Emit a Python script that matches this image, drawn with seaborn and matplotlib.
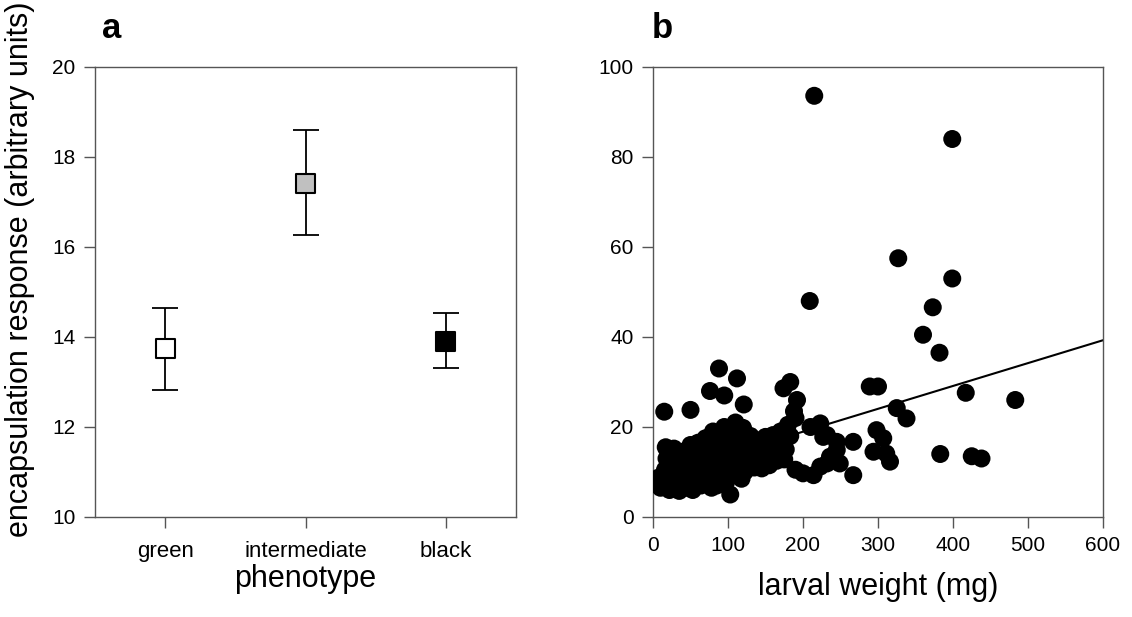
import matplotlib
matplotlib.use("Agg")
import matplotlib.pyplot as plt
import seaborn as sns
import numpy as np
import pandas as pd

# ---- Panel a data ----
phenotypes = ["green", "intermediate", "black"]
pheno_mean = [13.74, 17.41, 13.90]
pheno_lower = [12.82, 16.26, 13.30]
pheno_upper = [14.65, 18.60, 14.54]
pheno_fill = ["#ffffff", "#c0c0c0", "#000000"]

# ---- Panel b data (larval weight mg, encapsulation response) ----
weight = [
    5, 8, 10,
    17, 18, 16, 20, 22,
    28, 30, 27, 32, 35,
    40, 42, 38, 45,
    50, 52, 48, 55, 53,
    60, 62, 65, 58, 64,
    70, 72, 75, 68, 73, 78,
    80, 83, 85, 82, 88, 85,
    90, 93, 95, 92, 97, 95,
    100, 103, 105, 102, 108, 103,
    110, 113, 115, 112, 118, 110,
    120, 123, 125, 128, 122,
    130, 133, 137, 135,
    140, 143, 147, 145,
    150, 153, 157, 155,
    160, 163, 167, 165,
    170, 173, 177, 175,
    180, 183, 190, 188, 192,
    190, 200, 214,
    210, 223, 227, 232, 236, 245, 249, 223, 245, 232,
    15, 50, 88, 112, 76, 95, 121,
    174, 183,
    209, 215,
    267, 267, 289, 300, 325, 338, 298, 307, 294, 311, 316,
    383, 425, 438, 417, 483,
    360, 382, 373, 327, 399, 399,
]
response = [
    7.2, 8.8, 6.5,
    15.5, 13.0, 10.5, 8.0, 6.0,
    15.2, 12.5, 10.0, 7.5, 5.8,
    14.5, 11.8, 9.0, 6.5,
    16.0, 13.5, 11.0, 8.5, 6.0,
    16.5, 14.0, 11.5, 9.5, 7.0,
    17.5, 15.0, 12.5, 10.5, 8.0, 6.5,
    19.0, 16.5, 14.0, 11.5, 9.0, 7.0,
    18.0, 15.5, 13.0, 10.0, 7.5, 20.0,
    19.8, 17.0, 14.5, 12.0, 9.5, 5.0,
    18.5, 16.0, 13.5, 11.0, 8.5, 21.0,
    19.8, 17.5, 15.0, 12.5, 10.0,
    18.0, 15.5, 13.0, 11.0,
    17.0, 14.5, 12.5, 10.8,
    17.8, 15.5, 13.5, 11.5,
    18.2, 16.0, 14.0, 12.5,
    19.0, 17.0, 15.0, 12.8,
    20.5, 18.0, 22.0, 23.5, 26.0,
    10.5, 9.7, 9.3,
    20.0, 20.8, 17.8, 18.2, 13.4, 16.7, 11.9, 11.2, 14.9, 11.9,
    23.4, 23.8, 33.0, 30.8, 28.0, 27.0, 25.0,
    28.6, 30.0,
    48.0, 93.6,
    16.7, 9.3, 29.0, 29.0, 24.2, 21.9, 19.3, 17.5, 14.5, 14.1, 12.3,
    14.0, 13.5, 13.0, 27.6, 26.0,
    40.5, 36.5, 46.6, 57.5, 53.0, 84.0,
]
fit_intercept = 8.8
fit_slope = 0.0508
fit_range = [0, 600]

sns.set_theme(style="white")
plt.rcParams["font.family"] = ["Liberation Sans", "DejaVu Sans"]
plt.rcParams["text.color"] = "black"
plt.rcParams["axes.labelcolor"] = "black"
plt.rcParams["xtick.labelcolor"] = "black"
plt.rcParams["ytick.labelcolor"] = "black"

fig = plt.figure(figsize=(11.32, 6.17), dpi=100)
axA = fig.add_axes([95 / 1132, 100 / 617, 421 / 1132, 450 / 617])
axB = fig.add_axes([653 / 1132, 100 / 617, 450 / 1132, 450 / 617])

spine_col = "#555555"
for ax in (axA, axB):
    for s in ax.spines.values():
        s.set_visible(True)
        s.set_color(spine_col)
        s.set_linewidth(1.0)
    ax.tick_params(axis="both", direction="out", length=8, width=1.0,
                   color=spine_col, labelsize=15, labelcolor="black",
                   left=True, bottom=True, pad=6)

# ---- Panel a ----
dfA = pd.DataFrame({"phenotype": phenotypes, "mean": pheno_mean,
                    "lower": pheno_lower, "upper": pheno_upper})
xpos = np.arange(len(phenotypes))
axA.errorbar(xpos, dfA["mean"],
             yerr=[dfA["mean"] - dfA["lower"], dfA["upper"] - dfA["mean"]],
             fmt="none", ecolor="black", elinewidth=1.3, capsize=9.5,
             capthick=1.3, zorder=2)
sns.scatterplot(x=xpos, y=dfA["mean"], hue=dfA["phenotype"],
                palette=dict(zip(phenotypes, pheno_fill)), marker="s", s=190,
                edgecolor="black", linewidth=1.5, legend=False, ax=axA, zorder=3)
axA.set_xlim(-0.5, 2.5)
axA.set_ylim(10, 20)
axA.set_yticks([10, 12, 14, 16, 18, 20])
axA.set_xticks(xpos)
axA.set_xticklabels(phenotypes, fontsize=16)
axA.tick_params(axis="x", pad=9)
axA.set_xlabel("phenotype", fontsize=22, labelpad=2)
axA.set_ylabel("encapsulation response (arbitrary units)", fontsize=22)
axA.yaxis.set_label_coords(-0.142, 0.55)

# ---- Panel b ----
dfB = pd.DataFrame({"weight": weight, "response": response})
sns.scatterplot(data=dfB, x="weight", y="response", color="black", s=168,
                edgecolor="none", linewidth=0, ax=axB, zorder=3)
fx = np.array(fit_range, dtype=float)
sns.lineplot(x=fx, y=fit_intercept + fit_slope * fx, color="black",
             linewidth=1.5, ax=axB, zorder=2)
axB.set_xlim(0, 600)
axB.set_ylim(0, 100)
axB.set_xticks(np.arange(0, 601, 100))
axB.set_yticks(np.arange(0, 101, 20))
axB.set_xlabel("larval weight (mg)", fontsize=22, labelpad=12)
axB.set_ylabel("")

fig.text(102 / 1132, 1 - 38 / 617, "a", fontsize=25, fontweight="bold",
         color="black", ha="left", va="baseline")
fig.text(652 / 1132, 1 - 38 / 617, "b", fontsize=25, fontweight="bold",
         color="black", ha="left", va="baseline")

fig.savefig("out.png", dpi=100)
